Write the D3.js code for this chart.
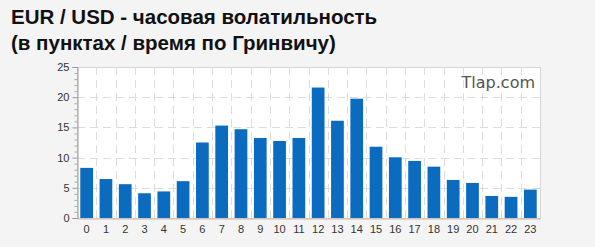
<!DOCTYPE html>
<html>
<head>
<meta charset="utf-8">
<script src="https://cdn.jsdelivr.net/npm/d3@7"></script>
<style>
  body { margin: 0; background: #f4f4f4; }
  svg { display: block; }
</style>
</head>
<body>
<svg id="chart" width="595" height="247"></svg>
<script>
// hours (GMT) and average volatility in points
var hours = ["0","1","2","3","4","5","6","7","8","9","10","11","12","13","14","15","16","17","18","19","20","21","22","23"];
var volatility = [8.3, 6.45, 5.6, 4.1, 4.4, 6.1, 12.5, 15.3, 14.7, 13.25, 12.75, 13.25, 21.6, 16.1, 19.75, 11.8, 10.05, 9.45, 8.5, 6.3, 5.8, 3.65, 3.5, 4.7];
var yTicks = [0, 5, 10, 15, 20, 25];
var titleLines = ["EUR / USD - часовая волатильность", "(в пунктах / время по Гринвичу)"];

var svg = d3.select("#chart");
var plotLeft = 77, plotRight = 540, plotTop = 67, plotBottom = 218;

// title
svg.selectAll("text.title")
    .data(titleLines)
    .enter()
    .append("text")
    .attr("class", "title")
    .attr("x", 11)
    .attr("y", function (d, i) { return 24 + i * 26; })
    .style("font-family", "'Liberation Sans', Arial, sans-serif")
    .style("font-weight", "bold")
    .style("font-size", "20.5px")
    .style("fill", "#111")
    .text(function (d) { return d; });

var x = d3.scaleBand()
    .domain(hours)
    .range([plotLeft, plotRight])
    .paddingInner(0.34)
    .paddingOuter(0.17);

var y = d3.scaleLinear()
    .domain([0, 25])
    .range([plotBottom, plotTop]);

// plot background
svg.append("rect")
    .attr("x", plotLeft + 0.5).attr("y", plotTop + 0.5)
    .attr("width", plotRight - plotLeft).attr("height", plotBottom - plotTop)
    .style("fill", "#fff")
    .style("stroke", "#d6d6d6");

// horizontal dashed grid
svg.selectAll("line.hgrid")
    .data(yTicks.slice(1, -1))
    .enter()
    .append("line")
    .attr("x1", plotLeft).attr("x2", plotRight)
    .attr("y1", d => Math.round(y(d)) + 0.5).attr("y2", d => Math.round(y(d)) + 0.5)
    .style("stroke", "#dcdcdc")
    .style("stroke-dasharray", "8,5");

// vertical dashed grid at slot boundaries
var gap = (x.step() - x.bandwidth()) / 2;
svg.selectAll("line.vgrid")
    .data(hours.slice(1))
    .enter()
    .append("line")
    .attr("x1", d => Math.round(x(d) - gap) + 0.5)
    .attr("x2", d => Math.round(x(d) - gap) + 0.5)
    .attr("y1", plotTop).attr("y2", plotBottom)
    .style("stroke", "#dcdcdc")
    .style("stroke-dasharray", "8,5");

// bars
svg.selectAll("rect.bar")
    .data(volatility)
    .enter()
    .append("rect")
    .attr("class", "bar")
    .attr("x", (d, i) => x(hours[i]))
    .attr("width", x.bandwidth())
    .attr("y", d => y(d))
    .attr("height", d => y(0) - y(d))
    .style("fill", "#0b6cbf");

// y axis with minor ticks
var yAxis = d3.axisLeft(y).tickValues(yTicks).tickSize(5).tickPadding(3);
var gy = svg.append("g").attr("transform", "translate(" + (plotLeft + 0.5) + ",0)").call(yAxis);
gy.selectAll("line").style("stroke", "#999");
gy.select(".domain").style("stroke", "#999");
gy.selectAll("text")
    .style("font-family", "'Liberation Sans', Arial, sans-serif")
    .style("font-size", "11px")
    .style("fill", "#333");

var gyMinor = svg.append("g").attr("transform", "translate(" + (plotLeft + 0.5) + ",0)")
    .call(d3.axisLeft(y).tickValues(d3.range(1, 25).filter(v => v % 5 !== 0)).tickSize(3).tickFormat(""));
gyMinor.selectAll("line").style("stroke", "#aaa");
gyMinor.select(".domain").remove();

// x axis
var gx = svg.append("g").attr("transform", "translate(0," + (plotBottom + 0.5) + ")")
    .call(d3.axisBottom(x).tickSize(0).tickPadding(7));
gx.select(".domain").style("stroke", "#c9b9a9");
gx.selectAll("text")
    .style("font-family", "'Liberation Sans', Arial, sans-serif")
    .style("font-size", "11px")
    .style("fill", "#333");

// watermark
svg.append("text")
    .attr("x", plotRight - 5)
    .attr("y", 88)
    .attr("text-anchor", "end")
    .style("font-family", "'DejaVu Sans', sans-serif")
    .style("font-size", "16px")
    .style("fill", "#555")
    .text("Tlap.com");
</script>
</body>
</html>
